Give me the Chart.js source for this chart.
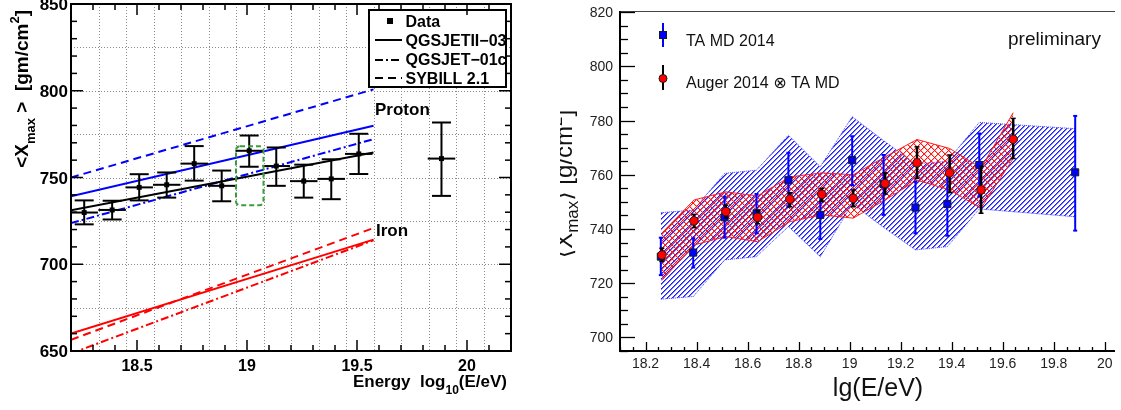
<!DOCTYPE html>
<html><head><meta charset="utf-8">
<script src="https://cdn.jsdelivr.net/npm/chart.js@4.4.1/dist/chart.umd.min.js"></script>
<style>
html,body{margin:0;padding:0;background:#fff;width:1121px;height:410px;overflow:hidden}
#cl{position:absolute;left:0;top:0}
#cr{position:absolute;left:560px;top:0}
</style></head><body>
<canvas id="cl" width="530" height="410"></canvas>
<canvas id="cr" width="561" height="410"></canvas>
<script>
// ---------- DATA ----------
// TA MD 2014 (also the "Data" points of the left panel)
const taX  = [18.26, 18.387, 18.51, 18.635, 18.76, 18.885, 19.01, 19.133, 19.258, 19.383, 19.508, 19.884];
const taY  = [729.8, 731.3, 744.3, 745.8, 758.0, 745.2, 765.4, 756.6, 747.9, 749.2, 763.6, 760.9];
const taHi = [736.8, 736.6, 751.9, 752.9, 768.1, 754.0, 774.2, 767.3, 757.4, 760.5, 775.2, 781.7];
const taLo = [723.0, 725.8, 736.8, 738.4, 748.2, 736.3, 756.2, 745.2, 738.4, 737.5, 752.0, 739.4];
const taBinHalf = 0.0625;
const taBandHi = [746.0, 747.0, 760.5, 761.7, 774.6, 763.0, 781.4, 772.6, 764.0, 765.0, 779.3, 777.0];
const taBandLo = [714.1, 715.1, 728.6, 729.8, 740.9, 729.8, 749.2, 740.6, 732.3, 733.5, 747.4, 744.5];
// Auger 2014 (x) TA MD
const auX  = [18.264, 18.39, 18.515, 18.639, 18.766, 18.891, 19.014, 19.139, 19.264, 19.392, 19.515, 19.641];
const auY  = [730.4, 743.0, 746.4, 744.3, 751.0, 752.8, 751.3, 756.8, 764.4, 760.7, 754.4, 773.1];
const auHi = [732.9, 745.4, 748.8, 746.8, 753.4, 755.0, 754.4, 760.7, 770.3, 767.3, 763.2, 780.8];
const auLo = [728.0, 740.5, 744.0, 741.9, 748.2, 750.1, 748.2, 752.9, 758.7, 753.4, 745.8, 766.0];
const auBandHi = [738.5, 750.7, 753.7, 752.2, 759.2, 760.7, 760.0, 766.6, 773.0, 769.7, 762.5, 782.9];
const auBandLo = [721.0, 734.1, 737.2, 735.3, 742.7, 745.2, 744.0, 750.7, 758.0, 754.4, 747.6, 766.0];
// Left panel model lines (endpoints)
const modelX      = [18.2, 19.575];
const dataFit     = [731.1, 764.4];
const protonQGSII = [739.2, 779.8];
const protonQGS01 = [723.7, 772.1];
const protonSIB   = [750.0, 800.8];
const ironQGSII   = [660.0, 714.2];
const ironQGS01   = [648.6, 713.8];
const ironSIB     = [656.5, 720.9];
const boxX = [18.95, 19.075];
const boxY = [734, 768];
// Tick labels
const leftXTicks = [18.5, 19, 19.5, 20];
const leftXLabels = ['18.5', '19', '19.5', '20'];
const leftYTicks = [650, 700, 750, 800, 850];
const leftYLabels = ['650', '700', '750', '800', '850'];
const leftGridX = [18.325, 18.45, 18.575, 18.7, 18.825, 18.95, 19.075, 19.2, 19.325, 19.45, 19.575, 19.7, 19.825, 19.95, 20.075];
const leftGridY = [675, 700, 725, 750, 775, 800, 825];
const rightXTicks = [18.2, 18.4, 18.6, 18.8, 19, 19.2, 19.4, 19.6, 19.8, 20];
const rightXLabels = ['18.2', '18.4', '18.6', '18.8', '19', '19.2', '19.4', '19.6', '19.8', '20'];
const rightYTicks = [700, 720, 740, 760, 780, 800, 820];
const rightYLabels = ['700', '720', '740', '760', '780', '800', '820'];

// ---------- HELPERS ----------
const FONT = "'Liberation Sans', Arial, Helvetica, 'DejaVu Sans', sans-serif";
const DASH = [8, 5];
const DASHDOT = [8, 3, 2, 3];
function pts(xs, ys) { return xs.map((x, i) => ({ x: x, y: ys[i] })); }
function richText(ctx, segs, x, y, align, rot, weight, color) {
  ctx.save(); ctx.translate(x, y); ctx.rotate(rot || 0);
  ctx.fillStyle = color || '#000'; ctx.textBaseline = 'alphabetic'; ctx.textAlign = 'left';
  let W = 0;
  const ws = segs.map(s => { ctx.font = weight + ' ' + s.s + 'px ' + FONT; const w = ctx.measureText(s.t).width; W += w; return w; });
  let cx = align === 'right' ? -W : (align === 'center' ? -W / 2 : 0);
  segs.forEach((s, i) => { ctx.font = weight + ' ' + s.s + 'px ' + FONT; ctx.fillText(s.t, cx, s.dy || 0); cx += ws[i]; });
  ctx.restore();
}
function line(ctx, x1, y1, x2, y2) { ctx.beginPath(); ctx.moveTo(x1, y1); ctx.lineTo(x2, y2); ctx.stroke(); }
function hatchPattern(ctx, size, color, both, alpha2) {
  const c = document.createElement('canvas'); c.width = c.height = size;
  const g = c.getContext('2d'); g.fillStyle = color;
  for (let i = 0; i < size; i++) { g.fillRect(i, size - 1 - i, 1, 1); if (both) g.fillRect(i, i, 1, 1); }
  g.globalAlpha = alpha2;
  for (let i = 0; i < size; i++) { g.fillRect((i + 1) % size, size - 1 - i, 1, 1); if (both) g.fillRect((i + 1) % size, i, 1, 1); }
  return ctx.createPattern(c, 'repeat');
}

// ---------- LEFT PANEL ----------
const leftPlugin = {
  id: 'leftDecor',
  beforeDatasetsDraw(chart) {
    const { ctx, chartArea: a, scales: { x, y } } = chart;
    ctx.save(); ctx.strokeStyle = '#8a8a8a'; ctx.lineWidth = 1; ctx.setLineDash([1, 2]);
    leftGridX.forEach(v => { const px = Math.round(x.getPixelForValue(v)) + 0.5; line(ctx, px, a.top, px, a.bottom); });
    leftGridY.forEach(v => { const py = Math.round(y.getPixelForValue(v)) + 0.5; line(ctx, a.left, py, a.right, py); });
    ctx.restore();
  },
  beforeDatasetDraw(chart, args) {
    if (args.index !== 0) return;
    const { ctx, chartArea: a, scales: { x, y } } = chart;
    ctx.save(); ctx.beginPath(); ctx.rect(a.left, a.top, a.right - a.left, a.bottom - a.top); ctx.clip();
    ctx.strokeStyle = '#000'; ctx.lineWidth = 2;
    taX.forEach((xv, i) => {
      const px = x.getPixelForValue(xv), py = y.getPixelForValue(taY[i]);
      const ph = y.getPixelForValue(taHi[i]), pl = y.getPixelForValue(taLo[i]);
      line(ctx, x.getPixelForValue(xv - taBinHalf), py, x.getPixelForValue(xv + taBinHalf), py);
      line(ctx, px, ph, px, pl);
      line(ctx, px - 9.5, ph, px + 9.5, ph);
      line(ctx, px - 9.5, pl, px + 9.5, pl);
    });
    ctx.restore();
  },
  afterDatasetsDraw(chart) {
    const { ctx, chartArea: a, scales: { x, y } } = chart;
    ctx.save();
    // green dashed box
    ctx.strokeStyle = '#3c9c3c'; ctx.lineWidth = 2; ctx.setLineDash([5, 3]);
    const bx1 = x.getPixelForValue(boxX[0]), bx2 = x.getPixelForValue(boxX[1]);
    const by1 = y.getPixelForValue(boxY[1]), by2 = y.getPixelForValue(boxY[0]);
    ctx.beginPath(); ctx.roundRect(bx1, by1, bx2 - bx1, by2 - by1, 4); ctx.stroke();
    ctx.setLineDash([]);
    // legend
    ctx.fillStyle = '#fff'; ctx.fillRect(368, 9, 139, 79);
    ctx.strokeStyle = '#000'; ctx.lineWidth = 2; ctx.strokeRect(369, 10, 137, 77);
    ctx.fillStyle = '#000'; ctx.fillRect(387, 18, 6, 6);
    ctx.lineWidth = 2;
    line(ctx, 375, 40, 402, 40);
    ctx.setLineDash(DASHDOT); line(ctx, 375, 60, 402, 60);
    ctx.setLineDash(DASH); line(ctx, 375, 78, 402, 78);
    ctx.setLineDash([]);
    ctx.font = 'bold 16px ' + FONT; ctx.textAlign = 'left'; ctx.textBaseline = 'alphabetic';
    ctx.fillText('Data', 405.5, 27);
    ctx.fillText('QGSJETII\u221203', 405.5, 46);
    ctx.fillText('QGSJET\u221201c', 405.5, 65);
    ctx.fillText('SYBILL 2.1', 405.5, 84);
    // labels
    ctx.font = 'bold 17px ' + FONT;
    ctx.fillText('Proton', 375, 115);
    ctx.fillText('Iron', 376, 236);
    // frame
    ctx.strokeStyle = '#000'; ctx.lineWidth = 2;
    ctx.strokeRect(a.left, a.top, a.right - a.left, a.bottom - a.top);
    // ticks
    ctx.lineWidth = 1.5;
    for (let k = 0; ; k++) {
      const v = 18.2 + k * 0.1; if (v > 20.2 + 1e-6) break;
      const px = x.getPixelForValue(v);
      const maj = Math.abs(v * 2 - Math.round(v * 2)) < 1e-6;
      const L = maj ? 11 : 6;
      line(ctx, px, a.bottom, px, a.bottom - L);
      line(ctx, px, a.top, px, a.top + L);
    }
    for (let v = 650; v <= 850; v += 10) {
      const py = y.getPixelForValue(v);
      const L = v % 50 === 0 ? 12 : 6;
      line(ctx, a.left, py, a.left + L, py);
      line(ctx, a.right, py, a.right - L, py);
    }
    // tick labels
    ctx.fillStyle = '#000';
    ctx.font = 'bold 17px ' + FONT; ctx.textAlign = 'right';
    leftYTicks.forEach((v, i) => ctx.fillText(leftYLabels[i], 68, y.getPixelForValue(v) + 6));
    ctx.font = 'bold 16px ' + FONT; ctx.textAlign = 'center';
    leftXTicks.forEach((v, i) => ctx.fillText(leftXLabels[i], x.getPixelForValue(v), 371));
    ctx.restore();
    // titles
    richText(ctx, [{ t: 'Energy  log', s: 17 }, { t: '10', s: 12, dy: 7 }, { t: '(E/eV)', s: 17 }], 507, 387, 'right', 0, 'bold');
    richText(ctx, [{ t: '<X', s: 19 }, { t: 'max', s: 13, dy: 7 }, { t: ' >  [gm/cm', s: 19 }, { t: '2', s: 13, dy: -9 }, { t: ']', s: 19 }], 28, 10, 'right', -Math.PI / 2, 'bold');
  }
};
function lineDs(ys, color, dash) {
  return { data: pts(modelX, ys), borderColor: color, borderWidth: 2, borderDash: dash, pointRadius: 0, fill: false, tension: 0, order: 1 };
}
new Chart(document.getElementById('cl'), {
  type: 'line',
  data: { datasets: [
    { label: 'Data', data: pts(taX, taY), showLine: false, pointStyle: 'rect', pointRadius: 3.5, pointBackgroundColor: '#000', pointBorderColor: '#000', pointBorderWidth: 0, order: 0 },
    lineDs(dataFit, '#000', []),
    lineDs(protonQGSII, '#0000ff', []),
    lineDs(protonQGS01, '#0000ff', DASHDOT),
    lineDs(protonSIB, '#0000ff', DASH),
    lineDs(ironQGSII, '#ff0000', []),
    lineDs(ironQGS01, '#ff0000', DASHDOT),
    lineDs(ironSIB, '#ff0000', DASH)
  ] },
  options: {
    responsive: false, animation: false, events: [],
    layout: { padding: { left: 71, top: 4, right: 19, bottom: 59 } },
    plugins: { legend: { display: false }, tooltip: { enabled: false } },
    scales: { x: { type: 'linear', min: 18.2, max: 20.2, display: false }, y: { type: 'linear', min: 650, max: 850, display: false } }
  },
  plugins: [leftPlugin]
});

// ---------- RIGHT PANEL ----------
const crCtx = document.getElementById('cr').getContext('2d');
const blueHatch = hatchPattern(crCtx, 5, '#1a1aff', false, 0.6);
const redHatch = hatchPattern(crCtx, 7, '#ff1a1a', true, 0.3);
const rightPlugin = {
  id: 'rightDecor',
  beforeDatasetDraw(chart, args) {
    const { ctx, scales: { x, y } } = chart;
    if (args.index === 1) {
      ctx.save(); ctx.strokeStyle = '#0000ff'; ctx.lineWidth = 2;
      taX.forEach((xv, i) => {
        const px = x.getPixelForValue(xv), ph = y.getPixelForValue(taHi[i]), pl = y.getPixelForValue(taLo[i]);
        line(ctx, px, ph, px, pl); line(ctx, px - 2, ph, px + 2, ph); line(ctx, px - 2, pl, px + 2, pl);
      });
      ctx.restore();
    }
    if (args.index === 0) {
      ctx.save(); ctx.strokeStyle = '#000'; ctx.lineWidth = 2.5;
      auX.forEach((xv, i) => {
        const px = x.getPixelForValue(xv), ph = y.getPixelForValue(auHi[i]), pl = y.getPixelForValue(auLo[i]);
        line(ctx, px, ph, px, pl);
        ctx.lineWidth = 1.5; line(ctx, px - 2.5, ph, px + 2.5, ph); line(ctx, px - 2.5, pl, px + 2.5, pl); ctx.lineWidth = 2.5;
      });
      ctx.restore();
    }
  },
  afterDraw(chart) {
    const { ctx, chartArea: a, scales: { x, y } } = chart;
    ctx.save();
    // frame
    ctx.strokeStyle = '#444'; ctx.lineWidth = 1; line(ctx, a.left, a.top + 0.5, a.right, a.top + 0.5);
    ctx.strokeStyle = '#000'; ctx.lineWidth = 2;
    line(ctx, a.left, a.top, a.left, a.bottom + 1); line(ctx, a.left - 1, a.bottom, a.right, a.bottom);
    // ticks
    ctx.lineWidth = 1.3;
    for (let k = 0; ; k++) {
      const v = 18.1 + k * 0.05; if (v > 20.04 + 1e-6) break;
      const maj = Math.round(v * 100) % 20 === 0;
      const px = Math.round(x.getPixelForValue(v)) + 0.5;
      line(ctx, px, a.bottom, px, a.bottom - (maj ? 9 : 4));
    }
    for (let v = 695; v <= 820; v += 5) {
      const py = Math.round(y.getPixelForValue(v)) + 0.5;
      line(ctx, a.left, py, a.left + (v % 20 === 0 ? 15 : 8), py);
    }
    // tick labels
    ctx.fillStyle = '#222'; ctx.font = '14px ' + FONT; ctx.textBaseline = 'alphabetic';
    ctx.textAlign = 'right';
    rightYTicks.forEach((v, i) => ctx.fillText(rightYLabels[i], 53, y.getPixelForValue(v) + 5));
    ctx.textAlign = 'center';
    rightXTicks.forEach((v, i) => ctx.fillText(rightXLabels[i], x.getPixelForValue(v), 368));
    // legend
    ctx.strokeStyle = '#0000ff'; ctx.lineWidth = 2; line(ctx, 103, 23, 103, 47);
    ctx.fillStyle = '#0000ff'; ctx.fillRect(99.5, 31.5, 7, 7);
    ctx.strokeStyle = '#1a1a1a'; ctx.lineWidth = 1; ctx.strokeRect(99.5, 31.5, 7, 7);
    ctx.strokeStyle = '#000'; ctx.lineWidth = 2; line(ctx, 103, 65, 103, 90);
    ctx.fillStyle = '#ff0000'; ctx.beginPath(); ctx.arc(103, 78.5, 4, 0, Math.PI * 2); ctx.fill();
    ctx.strokeStyle = '#1a1a1a'; ctx.lineWidth = 1; ctx.stroke();
    ctx.fillStyle = '#111'; ctx.textAlign = 'left'; ctx.font = '16px ' + FONT;
    ctx.fillText('TA MD 2014', 126, 45.5);
    ctx.fillText('Auger 2014 \u2297 TA MD', 126, 87.5);
    ctx.font = '19px ' + FONT; ctx.fillText('preliminary', 448, 45);
    ctx.restore();
    // titles
    richText(ctx, [{ t: 'lg(E/eV)', s: 25 }], 318, 396, 'center', 0, 'normal', '#111');
    richText(ctx, [{ t: '\u27E8X', s: 24 }, { t: 'max', s: 17, dy: 6 }, { t: '\u27E9 [g/cm', s: 24 }, { t: '2', s: 17, dy: -10 }, { t: ']', s: 24 }], 12, 184, 'center', -Math.PI / 2, 'normal', '#111');
  }
};
new Chart(document.getElementById('cr'), {
  type: 'line',
  data: { datasets: [
    { label: 'Auger 2014 \u2297 TA MD', data: pts(auX, auY), showLine: false, pointStyle: 'circle', pointRadius: 4.3, pointBackgroundColor: '#ff0000', pointBorderColor: '#1a1a1a', pointBorderWidth: 1, order: 0 },
    { label: 'TA MD 2014', data: pts(taX, taY), showLine: false, pointStyle: 'rect', pointRadius: 5, pointBackgroundColor: '#0000ff', pointBorderColor: '#1a1a1a', pointBorderWidth: 1, order: 1 },
    { data: pts(auX, auBandHi), borderColor: '#ff2020', borderWidth: 1, pointRadius: 0, fill: 3, backgroundColor: redHatch, tension: 0, order: 2 },
    { data: pts(auX, auBandLo), borderColor: '#ff2020', borderWidth: 1, pointRadius: 0, fill: false, tension: 0, order: 3 },
    { data: pts(taX, taBandHi), borderColor: '#3a3aff', borderWidth: 1, borderDash: [1, 1], pointRadius: 0, fill: 5, backgroundColor: blueHatch, tension: 0, order: 4 },
    { data: pts(taX, taBandLo), borderColor: '#3a3aff', borderWidth: 1, borderDash: [1, 1], pointRadius: 0, fill: false, tension: 0, order: 5 }
  ] },
  options: {
    responsive: false, animation: false, events: [],
    layout: { padding: { left: 60, top: 11, right: 0, bottom: 59 } },
    plugins: { legend: { display: false }, tooltip: { enabled: false } },
    scales: { x: { type: 'linear', min: 18.1, max: 20.04, display: false }, y: { type: 'linear', min: 695, max: 820.4, display: false } }
  },
  plugins: [rightPlugin]
});
</script></body></html>
